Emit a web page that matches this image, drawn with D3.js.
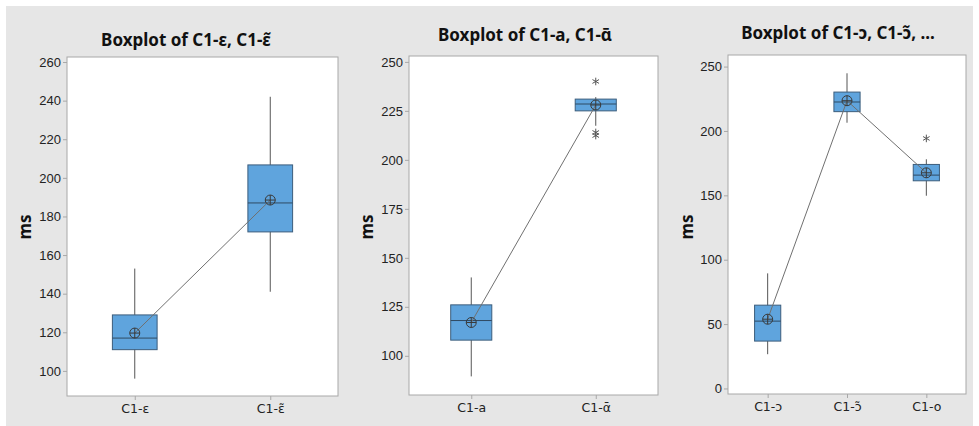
<!DOCTYPE html>
<html>
<head>
<meta charset="utf-8">
<script src="https://cdn.jsdelivr.net/npm/d3@7"></script>
<style>
  body { margin: 0; background: #fff; }
  svg { display: block; font-family: "Noto Sans", "Open Sans", sans-serif; }
</style>
</head>
<body>
<div id="chart"></div>
<script>
// categories per panel
var titles = ["Boxplot of C1-\u03b5, C1-\u03b5\u0303", "Boxplot of C1-a, C1-\u03b1\u0304", "Boxplot of C1-\u0254, C1-\u0254\u0303, ..."];
var cats1 = ["C1-\u03b5", "C1-\u03b5\u0303"];
var cats2 = ["C1-a", "C1-\u03b1\u0304"];
var cats3 = ["C1-\u0254", "C1-\u0254\u0303", "C1-o"];

// box stats: [whiskerLow, q1, median, q3, whiskerHigh]
var stats1 = [[96, 111, 117, 129, 153], [141, 172, 187, 206.7, 242]];
var stats2 = [[89.5, 108, 118, 126, 140], [217.4, 225, 228.5, 231, 232]];
var stats3 = [[26.6, 36.8, 52.3, 64.7, 89.4], [206.4, 215, 222.5, 230.2, 244.8], [149.7, 161.3, 165.7, 174, 178]];

// means
var means1 = [119.6, 188.5];
var means2 = [117, 228];
var means3 = [53.8, 223.5, 167.5];

// outliers per category
var outliers1 = [[], []];
var outliers2 = [[], [240, 214, 212.4]];
var outliers3 = [[], [], [194.2]];

// y axis ticks
var ticks1 = [100, 120, 140, 160, 180, 200, 220, 240, 260];
var ticks2 = [100, 125, 150, 175, 200, 225, 250];
var ticks3 = [0, 50, 100, 150, 200, 250];

var width = 979, height = 426;

var svg = d3.select("#chart").append("svg")
  .attr("width", width)
  .attr("height", height);

// grey background
svg.append("rect")
  .attr("x", 6).attr("y", 6)
  .attr("width", width - 12).attr("height", height - 6)
  .attr("fill", "#e6e6e6");

var panels = [
  { title: titles[0], cats: cats1, stats: stats1, means: means1, outliers: outliers1, ticks: ticks1,
    domain: [87, 262.6], left: 67, right: 338, top: 57, bottom: 396, titleX: 186, titleY: 46, labelX: 25 },
  { title: titles[1], cats: cats2, stats: stats2, means: means2, outliers: outliers2, ticks: ticks2,
    domain: [80, 253], left: 409, right: 658, top: 56, bottom: 395, titleX: 525, titleY: 41, labelX: 367 },
  { title: titles[2], cats: cats3, stats: stats3, means: means3, outliers: outliers3, ticks: ticks3,
    domain: [-4.3, 259], left: 728, right: 966, top: 55, bottom: 394, titleX: 838, titleY: 39, labelX: 687 }
];

panels.forEach(function (p) {
  var g = svg.append("g");

  var x = d3.scalePoint().domain(p.cats).range([p.left, p.right]).padding(0.5);
  var y = d3.scaleLinear().domain(p.domain).range([p.bottom, p.top]);
  var boxW = x.step() * 0.33;

  // plot area
  g.append("rect")
    .attr("x", p.left).attr("y", p.top)
    .attr("width", p.right - p.left).attr("height", p.bottom - p.top)
    .attr("fill", "#fff")
    .attr("stroke", "#a8a8a8")
    .attr("stroke-width", 1);

  // y axis
  var yAxis = g.append("g")
    .attr("transform", "translate(" + p.left + ",0)")
    .call(d3.axisLeft(y).tickValues(p.ticks).tickSize(4).tickPadding(2));
  yAxis.select(".domain").remove();
  yAxis.selectAll("line").attr("stroke", "#a8a8a8");
  yAxis.selectAll("text").attr("fill", "#222").style("font-size", "13px");

  // x axis
  var xAxis = g.append("g")
    .attr("transform", "translate(0," + p.bottom + ")")
    .call(d3.axisBottom(x).tickSize(4).tickPadding(4));
  xAxis.select(".domain").remove();
  xAxis.selectAll("line").attr("stroke", "#a8a8a8");
  xAxis.selectAll("text")
    .attr("fill", "#222")
    .style("font-family", "'DejaVu Sans', sans-serif")
    .style("font-size", "12.5px");

  // title
  g.append("text")
    .attr("x", p.titleX).attr("y", p.titleY)
    .attr("text-anchor", "middle")
    .style("font-size", "17px")
    .style("font-weight", "bold")
    .attr("fill", "#111")
    .text(p.title);

  // y label
  g.append("text")
    .attr("transform", "translate(" + p.labelX + "," + 227 + ") rotate(-90)")
    .attr("text-anchor", "middle")
    .attr("dy", "0.35em")
    .style("font-size", "17px")
    .style("font-weight", "bold")
    .attr("fill", "#111")
    .text("ms");

  p.cats.forEach(function (c, i) {
    var s = p.stats[i];
    var cx = x(c);

    // whisker
    g.append("line")
      .attr("x1", cx).attr("x2", cx)
      .attr("y1", y(s[0])).attr("y2", y(s[4]))
      .attr("stroke", "#555").attr("stroke-width", 1);

    // box
    g.append("rect")
      .attr("x", cx - boxW / 2).attr("width", boxW)
      .attr("y", y(s[3])).attr("height", y(s[1]) - y(s[3]))
      .attr("fill", "#5fa4dd")
      .attr("stroke", "#3c5d7c").attr("stroke-width", 1);

    // median
    g.append("line")
      .attr("x1", cx - boxW / 2).attr("x2", cx + boxW / 2)
      .attr("y1", y(s[2])).attr("y2", y(s[2]))
      .attr("stroke", "#2f4a63").attr("stroke-width", 1);

    // outliers
    p.outliers[i].forEach(function (v) {
      g.append("path")
        .attr("d", d3.symbol().type(d3.symbolAsterisk).size(40)())
        .attr("transform", "translate(" + cx + "," + y(v) + ")")
        .attr("fill", "none")
        .attr("stroke", "#555").attr("stroke-width", 1);
    });
  });

  // mean connect line
  var line = d3.line()
    .x(function (d, i) { return x(p.cats[i]); })
    .y(function (d) { return y(d); });
  g.append("path")
    .datum(p.means)
    .attr("d", line)
    .attr("fill", "none")
    .attr("stroke", "#707070").attr("stroke-width", 1);

  // mean symbols
  p.means.forEach(function (m, i) {
    var cx = x(p.cats[i]), cy = y(m);
    g.append("circle")
      .attr("cx", cx).attr("cy", cy).attr("r", 5)
      .attr("fill", "none").attr("stroke", "#3a3a3a").attr("stroke-width", 1);
    g.append("path")
      .attr("d", "M" + (cx - 5) + "," + cy + "H" + (cx + 5) + "M" + cx + "," + (cy - 5) + "V" + (cy + 5))
      .attr("stroke", "#3a3a3a").attr("stroke-width", 1);
  });
});
</script>
</body>
</html>
